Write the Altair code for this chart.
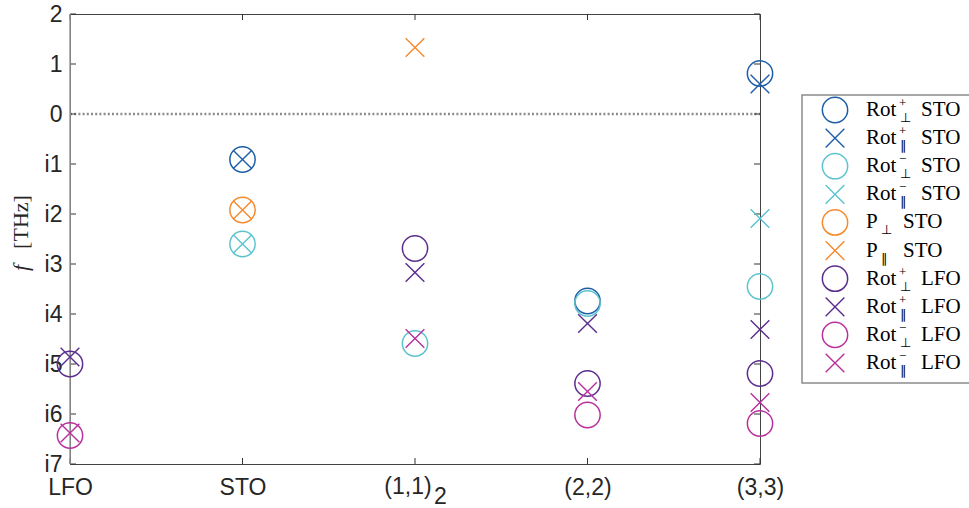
import altair as alt
import pandas as pd

# ---------------- data ----------------
categories = ["LFO", "STO", "(1,1)_2", "(2,2)", "(3,3)"]

series_names = ["Rot+⊥ STO", "Rot+∥ STO", "Rot−⊥ STO", "Rot−∥ STO", "P⊥ STO", "P∥ STO",
                "Rot+⊥ LFO", "Rot+∥ LFO", "Rot−⊥ LFO", "Rot−∥ LFO"]
series_markers = ["circle", "cross", "circle", "cross", "circle", "cross",
                  "circle", "cross", "circle", "cross"]
series_colors = ["#1d5ea8", "#1d5ea8", "#5cc3cd", "#5cc3cd", "#f5892c", "#f5892c",
                 "#5a2d8e", "#5a2d8e", "#b8309b", "#b8309b"]

# values per category (LFO, STO, (1,1)_2, (2,2), (3,3)); negative = imaginary frequency
rot_p_perp_sto = [None, -0.91, None, -3.74, 0.81]
rot_p_par_sto = [None, -0.91, None, None, 0.60]
rot_m_perp_sto = [None, -2.60, -4.59, -3.79, -3.45]
rot_m_par_sto = [None, -2.60, None, None, -2.09]
p_perp_sto = [None, -1.92, None, None, None]
p_par_sto = [None, -1.92, 1.33, None, None]
rot_p_perp_lfo = [-5.00, None, -2.69, -5.39, -5.19]
rot_p_par_lfo = [-4.86, None, -3.17, -4.19, -4.31]
rot_m_perp_lfo = [-6.43, None, None, -6.02, -6.19]
rot_m_par_lfo = [-6.38, None, -4.49, -5.55, -5.77]

all_values = [rot_p_perp_sto, rot_p_par_sto, rot_m_perp_sto, rot_m_par_sto, p_perp_sto,
              p_par_sto, rot_p_perp_lfo, rot_p_par_lfo, rot_m_perp_lfo, rot_m_par_lfo]

y_ticks = list(range(-7, 3))

# legend text pieces
legend_base = ["Rot", "Rot", "Rot", "Rot", "P", "P", "Rot", "Rot", "Rot", "Rot"]
legend_sup = ["+", "+", "−", "−", "", "", "+", "+", "−", "−"]
legend_sub = ["⊥", "∥", "⊥", "∥", "⊥", "∥", "⊥", "∥", "⊥", "∥"]
legend_suffix = ["STO", "STO", "STO", "STO", "STO", "STO", "LFO", "LFO", "LFO", "LFO"]

# y-axis title pieces (italic symbol + unit)
title_symbol = "f"
title_unit = "[THz]"

# ---------------- tables ----------------
rows = []
for name, mk, vals in zip(series_names, series_markers, all_values):
    for cat, v in zip(categories, vals):
        if v is not None:
            rows.append({"cat": cat, "value": v, "series": name, "marker": mk})
df = pd.DataFrame(rows)

leg = pd.DataFrame({
    "idx": list(range(len(series_names))),
    "series": series_names,
    "marker": series_markers,
    "base": legend_base,
    "sup": legend_sup,
    "sub": legend_sub,
    "suffix": legend_suffix,
})
leg["kind"] = ["p" if b == "P" else "rot" for b in legend_base]

W, H = 690, 450
CROSS = "M-1,-1L1,1M-1,1L1,-1"
AX_FONT = "Liberation Sans"
SERIF = "Liberation Serif"
LBL = 23

x_enc = alt.X(
    "cat:N",
    sort=categories,
    scale=alt.Scale(type="point", domain=categories, padding=0),
    axis=alt.Axis(title=None, ticks=False, domain=False, grid=False, labelAngle=0,
                  labelFont=AX_FONT, labelFontSize=LBL, labelColor="#262626",
                  labelPadding=12, labelBaseline="top",
                  labelExpr="datum.label == '(1,1)_2' ? '' : datum.label"),
)
y_enc = alt.Y(
    "value:Q",
    scale=alt.Scale(domain=[-7, 2], nice=False, zero=False),
    axis=alt.Axis(title=None, values=y_ticks, ticks=False, domain=False, grid=False,
                  labelFont=AX_FONT, labelFontSize=LBL, labelColor="#262626",
                  labelPadding=8, labelFlush=False,
                  labelExpr="datum.value < 0 ? 'i' + (-datum.value) : '' + datum.value"),
)
color_enc = alt.Color("series:N", scale=alt.Scale(domain=series_names, range=series_colors),
                      legend=None)

base = alt.Chart(df)

zero_line = alt.Chart(pd.DataFrame({"value": [0]})).mark_rule(
    strokeDash=[2, 2.2], color="#8c8c8c", strokeWidth=2.6
).encode(y=y_enc, x=alt.value(0), x2=alt.value(W))

tick_df = pd.DataFrame({"value": y_ticks})
yticks_left = alt.Chart(tick_df).mark_rule(color="#333333", strokeWidth=1).encode(
    y=y_enc, x=alt.value(0), x2=alt.value(6))
yticks_right = alt.Chart(tick_df).mark_rule(color="#333333", strokeWidth=1).encode(
    y=y_enc, x=alt.value(W - 6), x2=alt.value(W))

cat_df = pd.DataFrame({"cat": categories})
xticks_bottom = alt.Chart(cat_df).mark_rule(color="#333333", strokeWidth=1).encode(
    x=x_enc, y=alt.value(H - 6), y2=alt.value(H))
xticks_top = alt.Chart(cat_df).mark_rule(color="#333333", strokeWidth=1).encode(
    x=x_enc, y=alt.value(0), y2=alt.value(6))

left_line = alt.Chart(pd.DataFrame({"value": [0]})).mark_rule(
    color="#9a9a9a", strokeWidth=1.5).encode(
    x=alt.value(0), y=alt.value(0), y2=alt.value(H))

sub_df = pd.DataFrame({"cat": ["(1,1)_2"]})
lbl11 = alt.Chart(sub_df).mark_text(
    align="center", baseline="top", font=AX_FONT, fontSize=LBL, color="#262626", dx=-7
).encode(x=x_enc, y=alt.value(H + 12), text=alt.value("(1,1)"))
sub2 = alt.Chart(sub_df).mark_text(
    align="left", baseline="top", font=AX_FONT, fontSize=LBL, color="#262626", dx=19
).encode(x=x_enc, y=alt.value(H + 22), text=alt.value("2"))

circles = base.transform_filter(alt.datum.marker == "circle").mark_point(
    shape="circle", filled=False, size=640, strokeWidth=1.5, opacity=1
).encode(x=x_enc, y=y_enc, color=color_enc)

crosses = base.transform_filter(alt.datum.marker == "cross").mark_point(
    shape=CROSS, filled=False, size=350, strokeWidth=1.4, opacity=1
).encode(x=x_enc, y=y_enc, color=color_enc)

data_layer = alt.layer(zero_line, yticks_left, yticks_right, xticks_bottom, xticks_top,
                       left_line, lbl11, sub2, circles, crosses)

# ---------------- legend & y title ----------------
y_leg = alt.Y("idx:O", scale=alt.Scale(type="point", domain=list(range(10)),
                                       range=[96, 349], padding=0), axis=None)
one = pd.DataFrame({"a": [0]})
leg_box = alt.Chart(one).mark_rect(fill="white", stroke="#8c8c8c", strokeWidth=1.5).encode(
    x=alt.value(732), x2=alt.value(920), y=alt.value(81), y2=alt.value(369))
lb = alt.Chart(leg)
leg_circles = lb.transform_filter(alt.datum.marker == "circle").mark_point(
    shape="circle", filled=False, size=640, strokeWidth=1.5, opacity=1
).encode(x=alt.value(765), y=y_leg, color=color_enc)
leg_crosses = lb.transform_filter(alt.datum.marker == "cross").mark_point(
    shape=CROSS, filled=False, size=350, strokeWidth=1.4, opacity=1
).encode(x=alt.value(765), y=y_leg, color=color_enc)
txt = dict(align="left", baseline="middle", font=SERIF, color="black")
leg_base = lb.mark_text(fontSize=21, **txt).encode(x=alt.value(796), y=y_leg, text="base:N")
leg_sup = lb.transform_filter(alt.datum.kind == "rot").mark_text(fontSize=13, dy=-7, **txt).encode(
    x=alt.value(829), y=y_leg, text="sup:N")
leg_sub_rot = lb.transform_filter(alt.datum.kind == "rot").mark_text(fontSize=13, dy=8, **txt).encode(
    x=alt.value(830), y=y_leg, text="sub:N")
leg_sub_p = lb.transform_filter(alt.datum.kind == "p").mark_text(fontSize=13, dy=8, **txt).encode(
    x=alt.value(811), y=y_leg, text="sub:N")
leg_suf_rot = lb.transform_filter(alt.datum.kind == "rot").mark_text(fontSize=21, **txt).encode(
    x=alt.value(851), y=y_leg, text="suffix:N")
leg_suf_p = lb.transform_filter(alt.datum.kind == "p").mark_text(fontSize=21, **txt).encode(
    x=alt.value(833), y=y_leg, text="suffix:N")

# y title: unit above, italic symbol below (text reads bottom-to-top)
ytitle_f = alt.Chart(one).mark_text(angle=270, font=SERIF, fontSize=22, fontStyle="italic",
                                    align="center", baseline="middle", color="#262626").encode(
    x=alt.value(-49), y=alt.value(254), text=alt.value(title_symbol))
ytitle_u = alt.Chart(one).mark_text(angle=270, font=SERIF, fontSize=22,
                                    align="center", baseline="middle", color="#262626").encode(
    x=alt.value(-49), y=alt.value(208), text=alt.value(title_unit))

legend_layer = alt.layer(leg_box, leg_circles, leg_crosses, leg_base, leg_sup, leg_sub_rot,
                         leg_sub_p, leg_suf_rot, leg_suf_p, ytitle_f, ytitle_u)

chart = alt.layer(data_layer, legend_layer).resolve_scale(y="independent").properties(
    width=W, height=H,
    autosize=alt.AutoSizeParams(type="none"),
    padding={"left": 70, "top": 14, "right": 209, "bottom": 44},
    background="white",
).configure_view(stroke="#444444", strokeWidth=1)

chart.save("out.html", embed_options={"renderer": "svg", "actions": False})
